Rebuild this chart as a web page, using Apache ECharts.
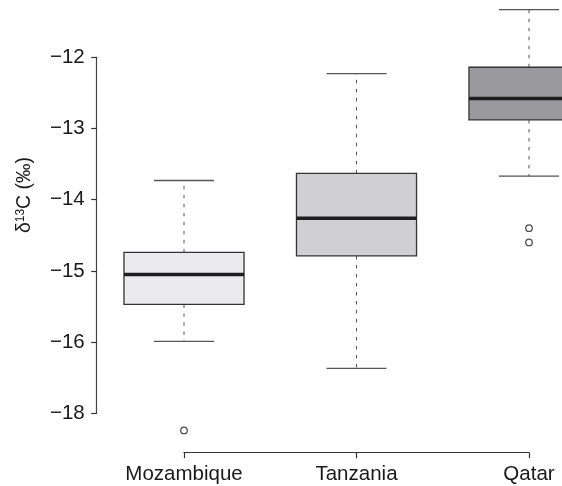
<!DOCTYPE html>
<html>
<head>
<meta charset="utf-8">
<title>δ13C by origin</title>
<script src="https://cdn.jsdelivr.net/npm/echarts@6/dist/echarts.min.js"></script>
<style>
  html, body { margin: 0; padding: 0; background: #fff; }
  #chart { width: 562px; height: 486px; }
</style>
</head>
<body>
<div id="chart"></div>
<script>
// Sample origins
const categories = ['Mozambique', 'Tanzania', 'Qatar'];

// Five-number summaries per origin (‰)
const lowerWhisker = [-15.99, -16.37, -13.67];
const lowerQuartile = [-15.47, -14.79, -12.88];
const medianValue = [-15.05, -14.26, -12.58];
const upperQuartile = [-14.74, -13.63, -12.14];
const upperWhisker = [-13.73, -12.23, -11.33];

// Outlying measurements: origin index and value
const outlierGroup = [0, 2, 2];
const outlierValue = [-17.24, -14.40, -14.60];

// Y-axis ticks and the labels printed next to them
const tickValues = [-17, -16, -15, -14, -13, -12];
const tickLabels = ['\u221218', '\u221216', '\u221215', '\u221214', '\u221213', '\u221212'];

// Box fill per origin
const boxFill = ['#ebebed', '#d0d0d2', '#9a9a9e'];

const FONT = "'Liberation Sans', Arial, Helvetica, sans-serif";
const INK = '#1a1a1a';

const boxData = categories.map((c, i) => [
  i, lowerWhisker[i], lowerQuartile[i], medianValue[i], upperQuartile[i], upperWhisker[i]
]);
const outlierData = outlierGroup.map((g, i) => [g, outlierValue[i]]);

function renderBox(params, api) {
  const idx = api.value(0);
  const band = api.size([1, 0])[0];
  const half = band * 0.348;
  const capHalf = half / 2;
  const pLow = api.coord([idx, api.value(1)]);
  const pQ1 = api.coord([idx, api.value(2)]);
  const pMed = api.coord([idx, api.value(3)]);
  const pQ3 = api.coord([idx, api.value(4)]);
  const pHigh = api.coord([idx, api.value(5)]);
  const cx = pMed[0];
  const whiskerStyle = { stroke: '#555', lineWidth: 1, lineDash: [3.5, 5.5] };
  const capStyle = { stroke: '#555', lineWidth: 1.3 };
  return {
    type: 'group',
    children: [
      { type: 'line', shape: { x1: cx, y1: pQ3[1], x2: cx, y2: pHigh[1] }, style: whiskerStyle },
      { type: 'line', shape: { x1: cx, y1: pQ1[1], x2: cx, y2: pLow[1] }, style: whiskerStyle },
      { type: 'line', shape: { x1: cx - capHalf, y1: pHigh[1], x2: cx + capHalf, y2: pHigh[1] }, style: capStyle },
      { type: 'line', shape: { x1: cx - capHalf, y1: pLow[1], x2: cx + capHalf, y2: pLow[1] }, style: capStyle },
      {
        type: 'rect',
        shape: { x: cx - half, y: pQ3[1], width: half * 2, height: pQ1[1] - pQ3[1] },
        style: { fill: boxFill[idx], stroke: '#333', lineWidth: 1.3 }
      },
      { type: 'line', shape: { x1: cx - half, y1: pMed[1], x2: cx + half, y2: pMed[1] }, style: { stroke: '#1f1f1f', lineWidth: 3.5 } }
    ]
  };
}

const chart = echarts.init(document.getElementById('chart'), null, { renderer: 'canvas' });

chart.setOption({
  backgroundColor: '#ffffff',
  animation: false,
  grid: { left: 184, right: 33, top: 57.3, bottom: 72.7, containLabel: false },
  xAxis: {
    type: 'category',
    data: categories,
    boundaryGap: false,
    offset: 39.4,
    axisLine: { show: true, lineStyle: { color: '#333', width: 1.2 } },
    axisTick: { show: true, length: 5.5, inside: false, alignWithLabel: true, lineStyle: { color: '#333', width: 1.2 } },
    axisLabel: { color: INK, fontFamily: FONT, fontSize: 20.5, margin: 11 },
    splitLine: { show: false }
  },
  yAxis: {
    type: 'value',
    min: -17,
    max: -12,
    interval: 1,
    offset: 87.3,
    axisLine: { show: true, lineStyle: { color: '#444', width: 1.2 } },
    axisTick: { show: true, length: 5.5, inside: false, lineStyle: { color: '#333', width: 1.2 } },
    axisLabel: {
      color: INK, fontFamily: FONT, fontSize: 20.5, margin: 12,
      formatter: v => {
        const k = tickValues.indexOf(Math.round(v));
        return k >= 0 ? tickLabels[k] : '';
      }
    },
    splitLine: { show: false }
  },
  graphic: [{
    type: 'text',
    x: 25,
    y: 195,
    rotation: Math.PI / 2,
    style: {
      text: '{a|\u03b4}{s|13}{a|C (\u2030)}',
      align: 'center',
      verticalAlign: 'middle',
      fill: INK,
      rich: {
        a: { fontFamily: FONT, fontSize: 19.5, fill: INK },
        s: { fontFamily: FONT, fontSize: 12, fill: INK, padding: [0, 0, 8, 0] }
      }
    }
  }],
  series: [
    {
      type: 'custom',
      renderItem: renderBox,
      data: boxData,
      encode: { x: 0, y: [1, 2, 3, 4, 5] },
      clip: false,
      z: 2
    },
    {
      type: 'scatter',
      data: outlierData,
      symbol: 'circle',
      symbolSize: 6.5,
      clip: false,
      itemStyle: { color: '#ffffff', borderColor: '#222', borderWidth: 1.3 },
      z: 3
    }
  ]
});
</script>
</body>
</html>
